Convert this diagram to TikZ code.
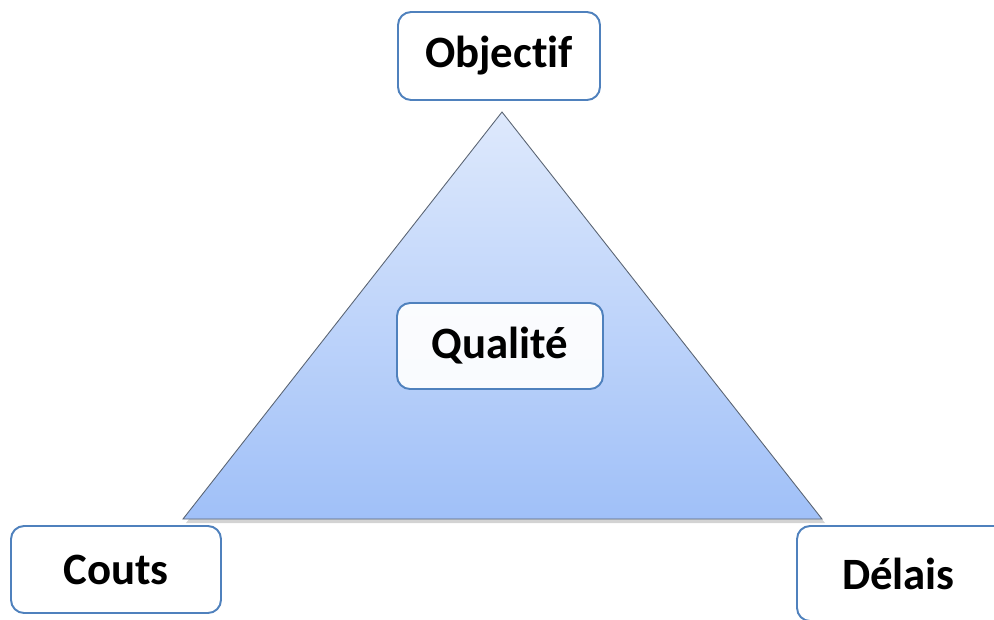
\documentclass[tikz,border=0pt]{standalone}
\usepackage{fontspec}
\setmainfont[RawFeature={-liga;-clig;-calt}]{Carlito}
\usepackage{xcolor}
\definecolor{boxblue}{RGB}{79,129,189}
\definecolor{tritop}{RGB}{222,233,252}
\definecolor{tribottom}{RGB}{160,192,248}
\definecolor{triedge}{RGB}{90,100,115}
\usetikzlibrary{positioning,shadows}

\begin{document}
\begin{tikzpicture}[
    x=0.02cm, y=-0.02cm,
    label box/.style={rectangle, rounded corners=0.26cm, draw=boxblue, line width=1.1pt, fill=white, font=\fontsize{25.5}{30}\selectfont\bfseries, text centered, inner sep=0pt},
    triangle/.style={draw=triedge, line width=0.5pt, top color=tritop, bottom color=tribottom, drop shadow={shadow xshift=0.6mm, shadow yshift=-0.8mm, opacity=0.35}},
]
\useasboundingbox (0,0) rectangle (994,619);
\clip (0,0) rectangle (994,619);

% Triangle
\coordinate (apex) at (502,112);
\coordinate (left) at (183,519);
\coordinate (right) at (822,519);
\path[triangle] (apex) -- (right) -- (left) -- cycle;

% Corner labels
\node (objectif) [label box, minimum width=4.04cm, minimum height=1.76cm] at (499,56) {Objectif};
\node (qualite) [label box, minimum width=4.12cm, minimum height=1.72cm, fill opacity=0.93, text opacity=1] at (500,346) {Qualité};
\node (couts) [label box, minimum width=4.2cm, minimum height=1.74cm] at (116,569.5) {Couts};
\node (delais) [label box, minimum width=4.66cm, minimum height=1.9cm, text width=4.66cm, align=left] at (913.5,573.5) {\hspace{0.9cm}\raisebox{-0.18cm}{Délais}};

\end{tikzpicture}
\end{document}
